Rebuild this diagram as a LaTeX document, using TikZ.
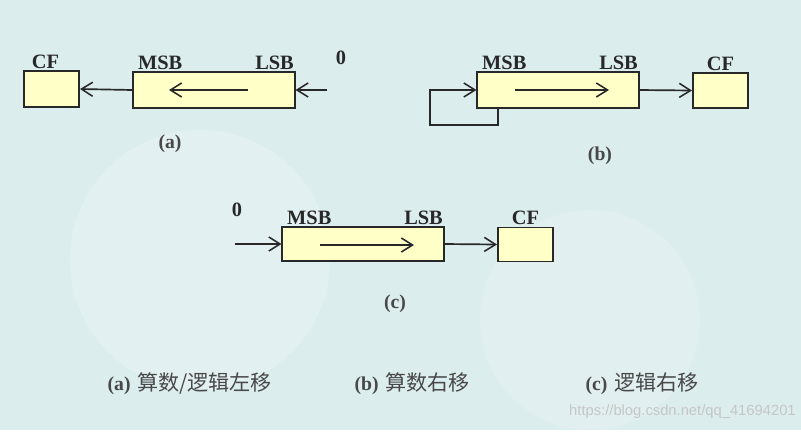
\documentclass[tikz,border=0pt]{standalone}
\usepackage{fontspec}
\setmainfont{Liberation Serif}
\setsansfont{Liberation Sans}
\newfontfamily\cjk{Noto Sans CJK SC}
\usetikzlibrary{arrows.meta}
\definecolor{bgcyan}{RGB}{220,237,238}
\definecolor{regfill}{RGB}{255,255,200}
\definecolor{ink}{RGB}{40,40,40}
\tikzset{
  reg/.style={draw=ink,fill=regfill,line width=1.3pt,minimum width=40.3mm,minimum height=8.8mm,inner sep=0pt},
  cfbox/.style={draw=ink,fill=regfill,line width=1.3pt,minimum width=13.8mm,minimum height=8.8mm,inner sep=0pt},
  lbl/.style={font=\bfseries\fontsize{14.5}{16}\selectfont,text=ink,inner sep=1pt},
  subcap/.style={font=\bfseries\fontsize{14}{16}\selectfont,text=ink!85,inner sep=1pt},
  wire/.style={->,line width=1.2pt,draw=ink}
}
\begin{document}
\begin{tikzpicture}[x=0.25mm, y=-0.25mm, >={Straight Barb[length=8pt,width=10pt,line width=1.1pt]}]
    \useasboundingbox (0,0) rectangle (801,439);
    % background
    \fill[bgcyan] (0,0) rectangle (801,430);
    \fill[white] (0,430) rectangle (801,439);
    \fill[white,opacity=0.2] (200,260) circle (130);
    \fill[white,opacity=0.15] (590,320) circle (110);

    % (a) left shift
    \node[cfbox] (cfa) at (51.5,89) {};
    \node[reg] (rega) at (214,90) {};
    \node[lbl,anchor=south] at ([xshift=-1.5mm]cfa.north) {CF};
    \node[lbl,anchor=south west] (msba) at ([xshift=1mm]rega.north west) {MSB};
    \node[lbl,anchor=south east] (lsba) at (rega.north east) {LSB};
    \node[lbl] (zeroa) at (341,58) {0};
    \coordinate (ina) at (327,90);
    \coordinate (ta) at (248,90); \coordinate (ha) at (169,90);
    \draw[wire] (ina)--(rega.east); \draw[wire] (ta)--(ha); \draw[wire] (rega.west)--(cfa.east);
    \node[subcap] (suba) at (170,144) {(a)};

    % (b) arithmetic right shift
    \node[reg] (regb) at (558,90) {};
    \node[cfbox] (cfb) at (720.5,90.5) {};
    \node[lbl,anchor=south west] (msbb) at ([xshift=1mm]regb.north west) {MSB};
    \node[lbl,anchor=south east] (lsbb) at (regb.north east) {LSB};
    \node[lbl,anchor=south] at (cfb.north) {CF};
    \coordinate (lpb) at (430,125);
    \coordinate (tb) at (515,90); \coordinate (hb) at (609,90);
    \draw[wire] ([xshift=5.3mm]regb.south west) |- (lpb) |- (regb.west);
    \draw[wire] (tb)--(hb); \draw[wire] (regb.east)--(cfb.west);
    \node[subcap] (subb) at (600,156) {(b)};

    % (c) logical right shift
    \node[reg,minimum height=8.5mm] (regc) at (363,244) {};
    \node[cfbox,minimum height=8.5mm] (cfc) at (525.5,244.5) {};
    \node[lbl,anchor=south west] (msbc) at ([xshift=1mm]regc.north west) {MSB};
    \node[lbl,anchor=south east] (lsbc) at (regc.north east) {LSB};
    \node[lbl,anchor=south] at (cfc.north) {CF};
    \node[lbl] (zeroc) at (237,210) {0};
    \coordinate (inc) at (235,244);
    \coordinate (tc) at (320,245); \coordinate (hc) at (414,245);
    \draw[wire] (inc)--(regc.west); \draw[wire] (tc)--(hc); \draw[wire] (regc.east)--(cfc.west);
    \node[subcap] (subc) at (395,304) {(c)};

    % captions
    \node[subcap,anchor=west] (capa) at (106,384) {(a)\,\,{\cjk\mdseries\fontsize{15}{17}\selectfont 算数/逻辑左移}};
    \node[subcap,anchor=west] (capb) at (353,384) {(b)\,\,{\cjk\mdseries\fontsize{15}{17}\selectfont 算数右移}};
    \node[subcap,anchor=west] (capc) at (584,384) {(c)\,\,{\cjk\mdseries\fontsize{15}{17}\selectfont 逻辑右移}};
    \node[anchor=east,font=\sffamily\fontsize{10.5}{12}\selectfont,text=gray!45,inner sep=0pt] (wm) at (796,412) {https://blog.csdn.net/qq\_41694201};
\end{tikzpicture}
\end{document}
